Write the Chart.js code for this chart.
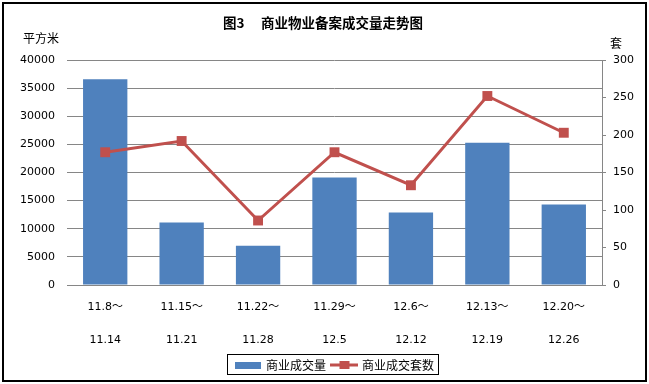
<!DOCTYPE html>
<html><head><meta charset="utf-8">
<script src="https://cdn.jsdelivr.net/npm/chart.js@4.4.1/dist/chart.umd.min.js"></script>
<style>html,body{margin:0;padding:0;background:#fff;}canvas{display:block}</style>
</head><body>
<canvas id="c" width="649" height="384"></canvas>
<script>
const chartTitle = "图3　 商业物业备案成交量走势图";
const leftUnit = "平方米";
const rightUnit = "套";
const categories = [["11.8～","11.14"],["11.15～","11.21"],["11.22～","11.28"],["11.29～","12.5"],["12.6～","12.12"],["12.13～","12.19"],["12.20～","12.26"]];
const seriesNames = ["商业成交量","商业成交套数"];
const areaValues = [36600, 11100, 7000, 19100, 12900, 25300, 14300];
const unitValues = [177, 192, 86, 177, 133, 252, 203];
const leftTickMax = 40000, leftTickStep = 5000;
const rightTickMax = 300, rightTickStep = 50;

const BLUE = '#4F81BD', RED = '#C0504D', GRID = '#868686';
const FONT = '"DejaVu Sans", "Noto Sans CJK SC", sans-serif';
const CJK = '"Noto Sans CJK SC", sans-serif';
const LEGEND_SHIFT = 11;

function barIcon(){const c=document.createElement('canvas');c.width=26;c.height=7;const x=c.getContext('2d');x.fillStyle=BLUE;x.fillRect(0,0,26,7);return c;}
function lineIcon(){const c=document.createElement('canvas');c.width=28;c.height=10;const x=c.getContext('2d');x.fillStyle=RED;x.fillRect(0,3.5,28,3);x.fillRect(9,1,10,8);return c;}
const icons=[barIcon(),lineIcon()];

const decor = {
  id:'decor',
  afterLayout(chart){
    const lg=chart.legend;
    if(lg){lg.left+=LEGEND_SHIFT;lg.right+=LEGEND_SHIFT;}
  },
  afterDraw(chart){
    const ctx=chart.ctx;ctx.save();
    ctx.fillStyle='#000';ctx.textBaseline='middle';
    ctx.font='bold 13.5px '+CJK;ctx.textAlign='center';
    ctx.fillText(chartTitle,323,23);
    ctx.font='12px '+CJK;ctx.textAlign='left';
    ctx.fillText(leftUnit,23,38);
    ctx.fillText(rightUnit,610,43);
    const lg=chart.legend;
    if(lg && lg.legendHitBoxes && lg.legendHitBoxes.length){
      let l=1e9,r=-1e9,t=1e9,b=-1e9;
      lg.legendHitBoxes.forEach(h=>{l=Math.min(l,h.left);r=Math.max(r,h.left+h.width);t=Math.min(t,h.top);b=Math.max(b,h.top+h.height);});
      ctx.strokeStyle='#000';ctx.lineWidth=1;
      ctx.strokeRect(Math.round(l)-9.5,Math.round((t+b)/2)-10.5,Math.round(r-l)+14,20);
    }
    ctx.strokeStyle='#000';ctx.lineWidth=2;
    ctx.strokeRect(3,3,643,378);
    ctx.restore();
  }
};

new Chart(document.getElementById('c'),{
  data:{
    labels:categories,
    datasets:[
      {type:'bar',label:seriesNames[0],data:areaValues,backgroundColor:BLUE,yAxisID:'y',barPercentage:0.58,categoryPercentage:1,order:2},
      {type:'line',label:seriesNames[1],data:unitValues,borderColor:RED,borderWidth:3,pointStyle:'rect',pointRadius:7,pointHoverRadius:7,pointBackgroundColor:RED,pointBorderColor:RED,pointBorderWidth:0,yAxisID:'y1',tension:0,order:1}
    ]
  },
  options:{
    responsive:false,animation:false,devicePixelRatio:1,
    layout:{padding:{top:60,left:0,right:0,bottom:3}},
    plugins:{
      tooltip:{enabled:false},
      title:{display:false},
      legend:{
        position:'bottom',
        labels:{
          usePointStyle:true,pointStyleWidth:23,boxHeight:10,padding:7,
          color:'#000',font:{family:CJK,size:12},
          generateLabels(){return seriesNames.map((n,i)=>({text:n,pointStyle:icons[i],fillStyle:'transparent',strokeStyle:'transparent',lineWidth:0,datasetIndex:i,hidden:false}));}
        }
      }
    },
    scales:{
      x:{
        type:'category',offset:true,
        grid:{display:false,drawTicks:false},
        border:{display:true,color:GRID,width:1},
        ticks:{color:'#000',font:{family:FONT,size:11,lineHeight:3},padding:6,maxRotation:0,autoSkip:false},
        afterFit(s){s.height=67;}
      },
      y:{
        position:'left',min:0,max:leftTickMax,
        grid:{color:GRID,drawTicks:false,lineWidth:1},
        border:{display:false},
        ticks:{stepSize:leftTickStep,color:'#000',font:{family:FONT,size:11},padding:12,callback:v=>String(v)},
        afterFit(s){s.width=67;}
      },
      y1:{
        position:'right',min:0,max:rightTickMax,
        grid:{drawOnChartArea:false,drawTicks:true,tickLength:4,color:GRID},
        border:{display:true,color:GRID,width:1},
        ticks:{stepSize:rightTickStep,color:'#000',font:{family:FONT,size:11},padding:7,callback:v=>String(v)},
        afterFit(s){s.width=47;}
      }
    }
  },
  plugins:[decor]
});
</script>
</body></html>
